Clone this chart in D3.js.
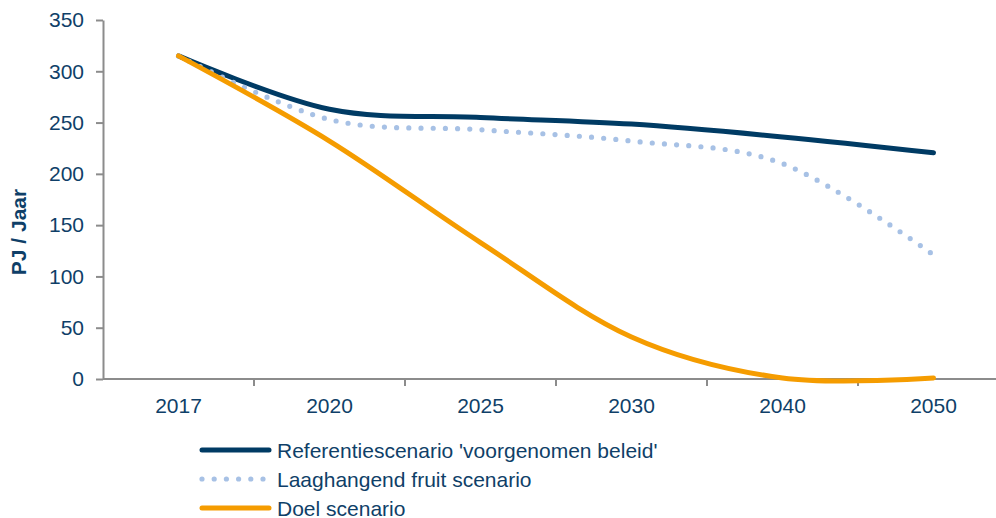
<!DOCTYPE html>
<html>
<head>
<meta charset="utf-8">
<script src="https://cdn.jsdelivr.net/npm/d3@7/dist/d3.min.js"></script>
<style>
  html, body { margin: 0; padding: 0; background: #fff; }
  svg { display: block; font-family: "Liberation Sans", Arial, sans-serif; }
</style>
</head>
<body>
<svg id="chart" width="996" height="518"></svg>
<script>
// Years on the category axis
const years = ["2017", "2020", "2025", "2030", "2040", "2050"];

// Energy use per scenario, PJ per year
const referentie = [315, 263, 255, 248.5, 236, 220.5];
const laaghangend = [315, 253, 243, 232, 210, 121];
const doel = [315, 232, 133, 41, 1, 1];

const yTicks = [0, 50, 100, 150, 200, 250, 300, 350];

const series = [
  { name: "Referentiescenario 'voorgenomen beleid'", values: referentie, color: "#003b64", width: 5, dash: null },
  { name: "Laaghangend fruit scenario", values: laaghangend, color: "#a7c1e5", width: 5.2, dash: "0,12.2" },
  { name: "Doel scenario", values: doel, color: "#f59c00", width: 5, dash: null }
];

const textColor = "#0f3f68";
const axisColor = "#8c8c8c";
const fontSize = 21;

const svg = d3.select("#chart");

const x = d3.scaleBand().domain(years).range([103, 1009]);
const y = d3.scaleLinear().domain([0, 350]).range([379, 20]);

// Y axis
const yAxis = svg.append("g")
  .attr("transform", "translate(103,0)")
  .call(d3.axisLeft(y).tickValues(yTicks).tickSize(7).tickPadding(12).tickSizeOuter(0));
yAxis.select(".domain").attr("stroke", axisColor).attr("stroke-width", 2);
yAxis.selectAll(".tick line").attr("stroke", axisColor).attr("stroke-width", 2);
yAxis.selectAll(".tick text").attr("fill", textColor).attr("font-size", fontSize)
  .attr("font-family", "Liberation Sans, Arial, sans-serif");

// X axis with tick marks at the category boundaries
const xg = svg.append("g").attr("transform", "translate(0,379)");
xg.append("line")
  .attr("x1", 103).attr("x2", 1009).attr("y1", 0).attr("y2", 0)
  .attr("stroke", axisColor).attr("stroke-width", 2);
xg.selectAll("line.bound")
  .data(years)
  .join("line")
  .attr("class", "bound")
  .attr("x1", (d, i) => x(d) + x.step())
  .attr("x2", (d, i) => x(d) + x.step())
  .attr("y1", 0).attr("y2", 7)
  .attr("stroke", axisColor).attr("stroke-width", 2);
xg.selectAll("text")
  .data(years)
  .join("text")
  .attr("x", d => x(d) + x.bandwidth() / 2)
  .attr("y", 34)
  .attr("text-anchor", "middle")
  .attr("fill", textColor)
  .attr("font-size", fontSize)
  .text(d => d);

// Y axis title
svg.append("text")
  .attr("transform", "translate(26,232) rotate(-90)")
  .attr("text-anchor", "middle")
  .attr("fill", textColor)
  .attr("font-size", fontSize)
  .attr("font-weight", "bold")
  .text("PJ / Jaar");

// Smoothed scenario lines
const line = d3.line()
  .x((d, i) => x(years[i]) + x.bandwidth() / 2)
  .y(d => y(d))
  .curve(d3.curveCardinal.tension(0));

svg.append("g").selectAll("path")
  .data(series)
  .join("path")
  .attr("d", s => line(s.values))
  .attr("fill", "none")
  .attr("stroke", s => s.color)
  .attr("stroke-width", s => s.width)
  .attr("stroke-linecap", "round")
  .attr("stroke-linejoin", "round")
  .attr("stroke-dasharray", s => s.dash);

// Legend
const legend = svg.append("g");
const rows = legend.selectAll("g")
  .data(series)
  .join("g")
  .attr("transform", (s, i) => `translate(0,${450 + i * 29})`);
rows.append("line")
  .attr("x1", 202).attr("x2", 269)
  .attr("y1", 0).attr("y2", 0)
  .attr("stroke", s => s.color)
  .attr("stroke-width", s => s.width)
  .attr("stroke-linecap", "round")
  .attr("stroke-dasharray", s => s.dash ? "0,12.2" : null);
rows.append("text")
  .attr("x", 277)
  .attr("y", 7.5)
  .attr("fill", textColor)
  .attr("font-size", fontSize)
  .text(s => s.name);
</script>
</body>
</html>
